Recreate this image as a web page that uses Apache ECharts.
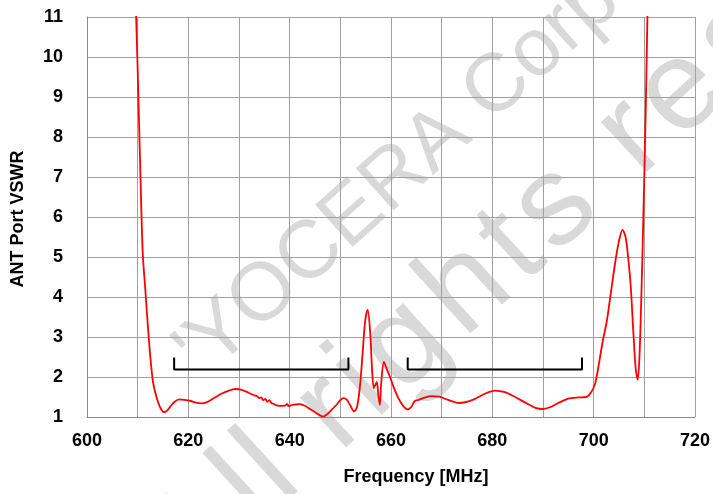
<!DOCTYPE html>
<html>
<head>
<meta charset="utf-8">
<script src="https://cdn.jsdelivr.net/npm/echarts@6/dist/echarts.min.js"></script>
<style>html,body{margin:0;padding:0;background:#fff;}#c{width:713px;height:494px;}</style>
</head>
<body>
<div id="c"></div>
<script>
const freq = [609.0, 609.7, 610.2, 610.6, 611.0, 611.5, 612.0, 612.5, 613.0, 613.5, 614.0, 614.6, 615.2, 615.8, 616.5, 617.3, 618.2, 619.2, 620.5, 621.5, 622.6, 623.8, 625.0, 626.5, 628.0, 629.3, 630.5, 632.0, 633.0, 633.6, 634.0, 634.4, 634.8, 635.2, 635.6, 636.0, 636.4, 636.8, 637.4, 638.0, 638.6, 639.2, 639.5, 639.8, 640.4, 641.0, 642.0, 643.0, 644.0, 645.0, 646.0, 646.6, 647.3, 648.2, 649.2, 650.0, 650.6, 651.3, 652.0, 652.7, 653.3, 653.9, 654.4, 654.9, 655.4, 655.9, 656.3, 656.6, 656.9, 657.2, 657.5, 657.8, 658.1, 658.6, 659.1, 659.8, 660.6, 661.5, 662.4, 663.3, 664.0, 664.7, 665.5, 666.5, 668.0, 669.5, 671.0, 673.5, 676.0, 678.5, 680.5, 682.5, 684.5, 686.5, 688.5, 690.0, 691.5, 693.0, 695.0, 697.0, 698.5, 699.5, 700.3, 701.0, 701.8, 702.6, 703.5, 704.3, 705.0, 705.7, 706.3, 706.8, 707.3, 707.8, 708.3, 708.7, 709.1, 709.5, 709.9, 710.3, 710.8];
const vswr = [13.0, 11.0, 8.7, 6.8, 5.1, 4.2, 3.3, 2.5, 1.9, 1.6, 1.38, 1.2, 1.12, 1.16, 1.27, 1.38, 1.44, 1.43, 1.40, 1.36, 1.34, 1.38, 1.47, 1.58, 1.66, 1.70, 1.68, 1.60, 1.54, 1.52, 1.47, 1.49, 1.42, 1.45, 1.38, 1.42, 1.35, 1.33, 1.29, 1.28, 1.28, 1.29, 1.33, 1.27, 1.30, 1.31, 1.32, 1.28, 1.20, 1.12, 1.04, 1.01, 1.06, 1.17, 1.30, 1.42, 1.47, 1.43, 1.28, 1.14, 1.25, 1.8, 2.6, 3.4, 3.68, 3.1, 2.1, 1.72, 1.80, 1.88, 1.55, 1.30, 1.9, 2.38, 2.22, 2.0, 1.72, 1.46, 1.28, 1.19, 1.25, 1.40, 1.43, 1.48, 1.52, 1.51, 1.44, 1.35, 1.42, 1.58, 1.66, 1.62, 1.50, 1.36, 1.23, 1.20, 1.25, 1.35, 1.46, 1.49, 1.50, 1.62, 1.84, 2.3, 2.9, 3.4, 4.2, 4.9, 5.4, 5.68, 5.5, 5.0, 4.3, 3.2, 2.2, 1.93, 2.7, 4.43, 6.5, 8.8, 12.4];
const band1X = [617.2, 617.2, 651.6, 651.6];
const band1Y = [2.49, 2.19, 2.19, 2.49];
const band2X = [663.3, 663.3, 697.7, 697.7];
const band2Y = [2.49, 2.19, 2.19, 2.49];
const xTicks = [600, 620, 640, 660, 680, 700, 720];
const yTicks = [1, 2, 3, 4, 5, 6, 7, 8, 9, 10, 11];
const watermark1 = "'YOCERA Corporation";
const watermark2 = 'All rights reserved';

const zip = (a, b) => a.map((v, i) => [v, b[i]]);
const FONT = 'Liberation Sans, Arial, sans-serif';

// watermark: one text element per glyph, laid along a rotated line
const mctx = document.createElement('canvas').getContext('2d');
function wmLine(text, size, spacing, angDeg, anchorIdx, cx, cy, glyphCenterH) {
  const a = angDeg * Math.PI / 180;
  const u = [Math.cos(a), -Math.sin(a)];
  const n = [Math.sin(a), Math.cos(a)];
  mctx.font = size + 'px ' + FONT;
  const adv = [...text].map(ch => mctx.measureText(ch).width);
  const pos = [];
  let s = 0;
  adv.forEach(w => { pos.push(s + w * spacing / 2); s += w * spacing; });
  const off = (glyphCenterH - 0.34) * size;
  const mx = cx + n[0] * off - u[0] * pos[anchorIdx];
  const my = cy + n[1] * off - u[1] * pos[anchorIdx];
  return [...text].map((ch, i) => ({
    type: 'text', silent: true, z: -10,
    x: mx + u[0] * pos[i], y: my + u[1] * pos[i],
    rotation: a,
    style: { text: ch, font: size + 'px ' + FONT, fill: '#d9d9d9', textAlign: 'center', textVerticalAlign: 'middle' }
  }));
}

const chart = echarts.init(document.getElementById('c'));
chart.setOption({
  animation: false,
  backgroundColor: '#fff',
  grid: { left: 87, top: 17, right: 18, bottom: 77, show: false },
  xAxis: {
    type: 'value', min: 600, max: 720, interval: 10,
    axisLine: { show: true, lineStyle: { color: '#888', width: 1 } },
    axisTick: { show: false },
    splitLine: { show: true, lineStyle: { color: '#a0a0a0', width: 1 } },
    axisLabel: { margin: 15, color: '#000', fontWeight: 'bold', fontSize: 18, fontFamily: FONT,
      formatter: v => xTicks.includes(v) ? String(v) : '' }
  },
  yAxis: {
    type: 'value', min: 1, max: 11, interval: 1,
    axisLine: { show: true, lineStyle: { color: '#888', width: 1 } },
    axisTick: { show: false },
    splitLine: { show: true, lineStyle: { color: '#a0a0a0', width: 1 } },
    axisLabel: { margin: 24, color: '#000', fontWeight: 'bold', fontSize: 18, fontFamily: FONT,
      formatter: v => yTicks.includes(v) ? String(v) : '' }
  },
  graphic: [
    ...wmLine(watermark1, 82, 1.0, 41.8, 4, 352, 215, 0.36),
    ...wmLine(watermark2, 128, 1.17, 42.5, 12, 688, 100, 0.26),
    { type: 'text', x: 18, y: 219, rotation: Math.PI / 2, silent: true,
      style: { text: 'ANT Port VSWR', font: 'bold 18px ' + FONT, fill: '#000', textAlign: 'center', textVerticalAlign: 'middle' } },
    { type: 'text', x: 416, y: 477, silent: true,
      style: { text: 'Frequency [MHz]', font: 'bold 18px ' + FONT, fill: '#000', textAlign: 'center', textVerticalAlign: 'middle' } }
  ],
  series: [
    { type: 'line', data: zip(freq, vswr), showSymbol: false, smooth: 0.3, clip: true,
      lineStyle: { color: '#ff0000', width: 1.8 }, z: 5 },
    { type: 'line', data: zip(band1X, band1Y), showSymbol: false, lineStyle: { color: '#000', width: 2 }, z: 4 },
    { type: 'line', data: zip(band2X, band2Y), showSymbol: false, lineStyle: { color: '#000', width: 2 }, z: 4 }
  ]
});
</script>
</body>
</html>
